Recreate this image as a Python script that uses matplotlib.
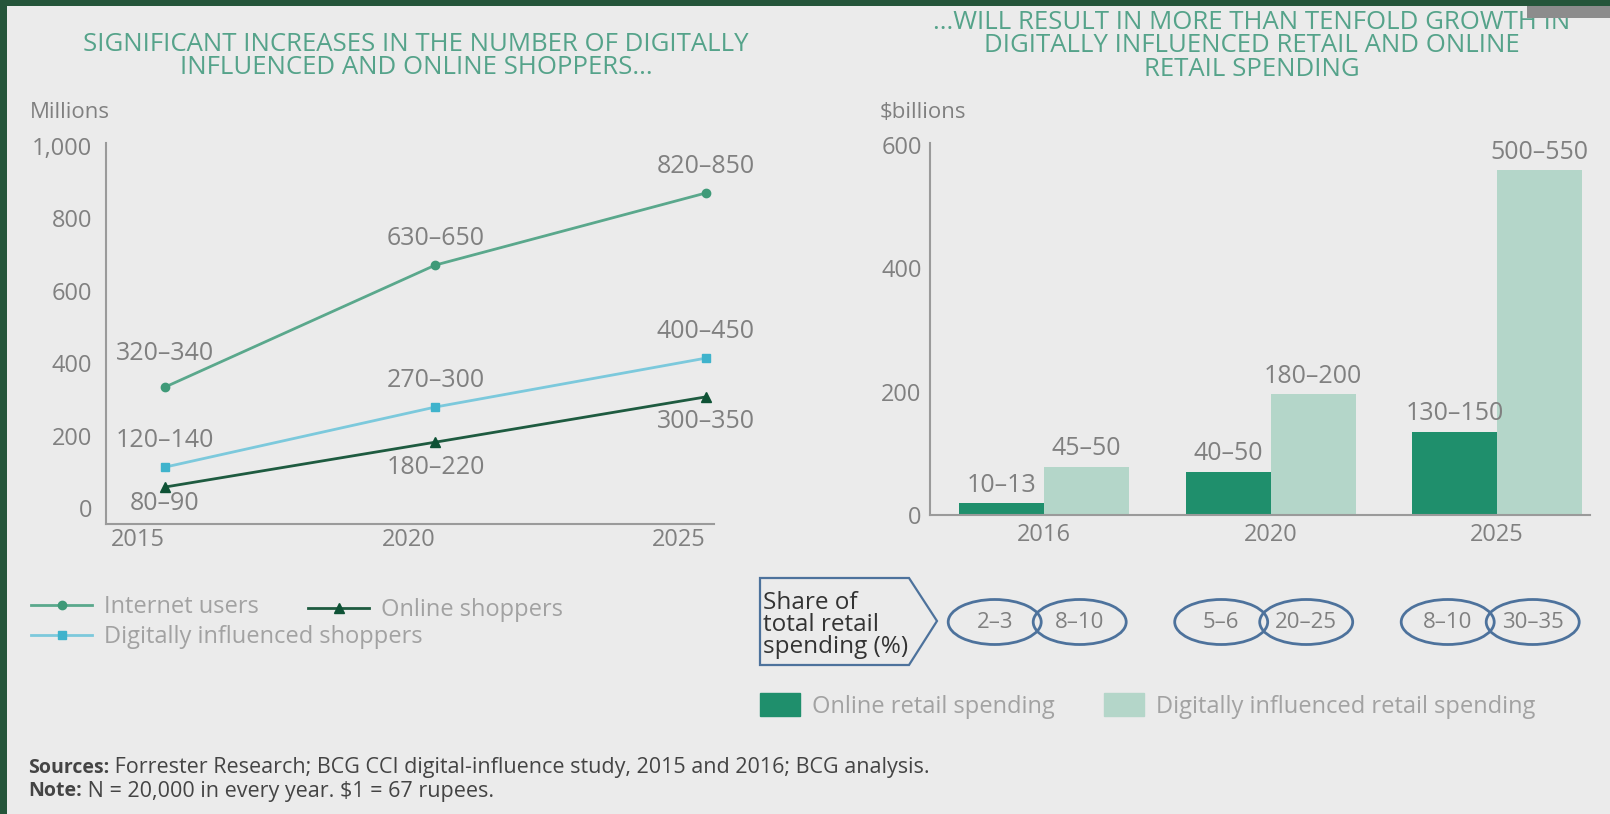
import matplotlib
matplotlib.use("Agg")
import matplotlib.pyplot as plt
from matplotlib.patches import Ellipse, Polygon, Rectangle, Patch
from matplotlib.transforms import blended_transform_factory
from matplotlib.ticker import FuncFormatter

plt.rcParams["font.family"] = ["Open Sans", "DejaVu Sans"]

# left chart: shoppers (millions)
years = [2015, 2020, 2025]
internet_users = [334, 671, 870]
digital_shoppers = [113, 279, 414]
online_shoppers = [58, 182, 307]
internet_labels = ["320–340", "630–650", "820–850"]
digital_labels = ["120–140", "270–300", "400–450"]
online_labels = ["80–90", "180–220", "300–350"]

# right chart: spending ($ billions)
spend_years = ["2016", "2020", "2025"]
online_spend = [19, 70, 135]
digital_spend = [78, 196, 559]
online_spend_labels = ["10–13", "40–50", "130–150"]
digital_spend_labels = ["45–50", "180–200", "500–550"]
online_share = ["2–3", "5–6", "8–10"]
digital_share = ["8–10", "20–25", "30–35"]

W, H = 1610, 814
BG = "#ebebeb"
BORDER = "#25553a"
TITLE_C = "#55a38a"
GREY = "#808080"
AXIS_C = "#9a9a9a"
C_INTERNET = "#5aa88c"
C_DIGITAL = "#7cc9dc"
C_ONLINE = "#1e5b40"
C_BAR_ONLINE = "#1f8f6c"
C_BAR_DIGITAL = "#b4d6c9"
C_OUTLINE = "#4d729c"
TICK_FS = 17
LABEL_FS = 18


def fx(px):
    return px / W


def fy(py):
    return 1 - py / H


fig = plt.figure(figsize=(16.1, 8.14), dpi=100, facecolor=BORDER)
fig.patches.append(Rectangle((fx(7), 0), 1 - fx(7), fy(6), transform=fig.transFigure,
                             facecolor=BG, edgecolor="none", zorder=-10))

# titles
fig.text(fx(416), fy(56), "SIGNIFICANT INCREASES IN THE NUMBER OF DIGITALLY\nINFLUENCED AND ONLINE SHOPPERS...",
         ha="center", va="center", fontsize=18.5, color=TITLE_C, linespacing=0.9)
fig.text(fx(1252), fy(46), "...WILL RESULT IN MORE THAN TENFOLD GROWTH IN\nDIGITALLY INFLUENCED RETAIL AND ONLINE\nRETAIL SPENDING",
         ha="center", va="center", fontsize=18.5, color=TITLE_C, linespacing=0.9)
fig.patches.append(Rectangle((fx(1527), fy(18)), 1 - fx(1527), fy(6) - fy(18),
                             transform=fig.transFigure, facecolor="#8c8c8c",
                             edgecolor="none", zorder=5))
fig.text(fx(30), fy(112), "Millions", ha="left", va="center", fontsize=16, color=GREY)
fig.text(fx(880), fy(112), "$billions", ha="left", va="center", fontsize=16, color=GREY)

# ---- left: line chart
ax1 = fig.add_axes([fx(106), fy(524), fx(714) - fx(106), fy(143) - fy(524)])
ax1.set_facecolor("none")
ax1.plot(years, internet_users, color=C_INTERNET, lw=2, marker="o", ms=6,
         mfc="#3f9a78", mec="#3f9a78", label="Internet users")
ax1.plot(years, digital_shoppers, color=C_DIGITAL, lw=2, marker="s", ms=6,
         mfc="#3fb3cc", mec="#3fb3cc", label="Digitally influenced shoppers")
ax1.plot(years, online_shoppers, color=C_ONLINE, lw=2, marker="^", ms=7,
         mfc="#0e5235", mec="#0e5235", label="Online shoppers")

for i, (x, v, t) in enumerate(zip(years, internet_users, internet_labels)):
    dy = 24 if i == 0 else 19
    ax1.annotate(t, (x, v), xytext=(0, dy), textcoords="offset points",
                 ha="center", va="center", fontsize=LABEL_FS, color=GREY)
for x, v, t in zip(years, digital_shoppers, digital_labels):
    ax1.annotate(t, (x, v), xytext=(0, 19), textcoords="offset points",
                 ha="center", va="center", fontsize=LABEL_FS, color=GREY)
for i, (x, v, t) in enumerate(zip(years, online_shoppers, online_labels)):
    dy = -12 if i == 0 else -18
    ax1.annotate(t, (x, v), xytext=(0, dy), textcoords="offset points",
                 ha="center", va="center", fontsize=LABEL_FS, color=GREY)

ax1.set_xlim(2013.91, 2025.15)
ax1.set_ylim(-44, 1008)
ax1.set_yticks([0, 200, 400, 600, 800, 1000])
ax1.yaxis.set_major_formatter(FuncFormatter(lambda v, p: f"{int(v):,}"))
ax1.set_xticks(years)
ax1.set_xticklabels([str(y) for y in years], ha="right")
for s in ["top", "right"]:
    ax1.spines[s].set_visible(False)
for s in ["left", "bottom"]:
    ax1.spines[s].set_color(AXIS_C)
    ax1.spines[s].set_linewidth(1.5)
ax1.tick_params(axis="both", length=0, labelsize=TICK_FS, labelcolor=GREY)
ax1.tick_params(axis="y", pad=10)
ax1.tick_params(axis="x", pad=3)

h1 = ax1.get_lines()
leg_a = fig.legend(handles=[h1[0], h1[1]], loc="center left",
                   bbox_to_anchor=(fx(31), fy(622)), frameon=False, fontsize=17,
                   handlelength=2.6, handletextpad=0.5, labelspacing=0.25,
                   borderaxespad=0, borderpad=0)
leg_b = fig.legend(handles=[h1[2]], loc="center left",
                   bbox_to_anchor=(fx(308), fy(610)), frameon=False, fontsize=17,
                   handlelength=2.6, handletextpad=0.5, borderaxespad=0, borderpad=0)
for lg in (leg_a, leg_b):
    for t in lg.get_texts():
        t.set_color("#a2a2a2")

# ---- right: grouped bars
spacing = 226.5
ax2 = fig.add_axes([fx(930), fy(515), fx(1590) - fx(930), fy(143) - fy(515)])
ax2.set_facecolor("none")
pos = list(range(len(spend_years)))
w = 85 / spacing
b1 = ax2.bar([p - w / 2 for p in pos], online_spend, width=w, color=C_BAR_ONLINE,
             label="Online retail spending")
b2 = ax2.bar([p + w / 2 for p in pos], digital_spend, width=w, color=C_BAR_DIGITAL,
             label="Digitally influenced retail spending")
for bars, labels in ((b1, online_spend_labels), (b2, digital_spend_labels)):
    for r, t in zip(bars, labels):
        ax2.annotate(t, (r.get_x() + r.get_width() / 2, r.get_height()),
                     xytext=(0, 13), textcoords="offset points",
                     ha="center", va="center", fontsize=LABEL_FS, color=GREY)

ax2.set_xlim(-(1044 - 930) / spacing, (1590 - 930) / spacing - (1044 - 930) / spacing)
ax2.set_ylim(0, 603)
ax2.set_yticks([0, 200, 400, 600])
ax2.set_xticks(pos)
ax2.set_xticklabels(spend_years)
for s in ["top", "right"]:
    ax2.spines[s].set_visible(False)
for s in ["left", "bottom"]:
    ax2.spines[s].set_color(AXIS_C)
    ax2.spines[s].set_linewidth(1.5)
ax2.tick_params(axis="both", length=0, labelsize=TICK_FS, labelcolor=GREY)
ax2.tick_params(axis="y", pad=6)
ax2.tick_params(axis="x", pad=6)

# share of total retail spending
fig.patches.append(Polygon([(fx(760), fy(578)), (fx(909), fy(578)), (fx(937), fy(621)),
                            (fx(909), fy(665)), (fx(760), fy(665))],
                           closed=True, transform=fig.transFigure, facecolor="none",
                           edgecolor=C_OUTLINE, lw=1.6))
fig.text(fx(763), fy(625), "Share of\ntotal retail\nspending (%)", ha="left", va="center",
         fontsize=17.5, color="#333333", linespacing=0.9)

tr = blended_transform_factory(ax2.transData, fig.transFigure)
ew = 93 / spacing
for p, a, b in zip(pos, online_share, digital_share):
    for xc, t in ((p - w / 2, a), (p + w / 2, b)):
        e = Ellipse((xc - 0.03, fy(622)), ew, fy(600) - fy(645), transform=tr,
                    facecolor="none", edgecolor=C_OUTLINE, lw=2, clip_on=False)
        ax2.add_artist(e)
        ax2.text(xc - 0.03, fy(622), t, transform=tr, ha="center", va="center",
                 fontsize=16, color=GREY)

leg_c = fig.legend(handles=[Patch(color=C_BAR_ONLINE, label="Online retail spending"),
                            Patch(color=C_BAR_DIGITAL, label="Digitally influenced retail spending")],
                   loc="center left", bbox_to_anchor=(fx(760), fy(706)), ncol=2,
                   frameon=False, fontsize=17, handlelength=1.7, handleheight=1.1,
                   handletextpad=0.5, columnspacing=2.1, borderaxespad=0, borderpad=0)
for t in leg_c.get_texts():
    t.set_color("#a2a2a2")

# footnotes
s1 = fig.text(fx(28), fy(768), "Sources:", ha="left", va="center", fontsize=14,
              fontweight="bold", color="#444444")
s2 = fig.text(fx(28), fy(791), "Note:", ha="left", va="center", fontsize=14,
              fontweight="bold", color="#444444")
ax2.annotate(" Forrester Research; BCG CCI digital-influence study, 2015 and 2016; BCG analysis.",
             xy=(1, 0.5), xycoords=s1, ha="left", va="center", fontsize=15.5, color="#444444",
             annotation_clip=False)
ax2.annotate(" N = 20,000 in every year. $1 = 67 rupees.", xy=(1, 0.5), xycoords=s2,
             ha="left", va="center", fontsize=15.5, color="#444444", annotation_clip=False)

fig.savefig("out.png", dpi=100, facecolor=BORDER)
